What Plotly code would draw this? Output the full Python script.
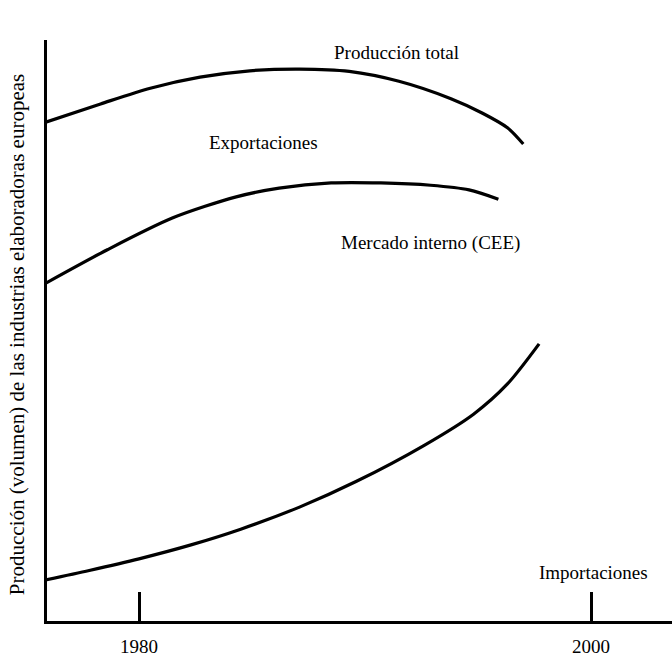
import plotly.graph_objects as go

# Data (years, relative volume units)
prod_years = [1975.9, 1978.3, 1980.5, 1982.7, 1984.9, 1987.1, 1989.3, 1991.5, 1993.8, 1995.2, 1996.3, 1997.0]
prod_vals = [85.9, 89.0, 91.7, 93.6, 94.7, 95.0, 94.6, 92.9, 89.9, 87.4, 84.9, 82.1]

merc_years = [1975.9, 1978.6, 1981.5, 1984.3, 1986.2, 1988.5, 1990.7, 1992.9, 1994.6, 1995.9]
merc_vals = [58.2, 63.9, 69.4, 73.0, 74.5, 75.4, 75.4, 75.0, 74.2, 72.6]

imp_years = [1975.9, 1977.8, 1980.0, 1982.3, 1984.5, 1987.1, 1989.6, 1992.6, 1994.8, 1996.3, 1997.7]
imp_vals = [7.1, 8.7, 10.7, 13.1, 15.8, 19.6, 24.0, 30.2, 35.6, 40.8, 47.7]

tick_years = [1980, 2000]
tick_labels = ["1980", "2000"]

labels = ["Producción total", "Exportaciones", "Mercado interno (CEE)", "Importaciones"]
label_years = [1991.4, 1985.5, 1992.9, 2000.1]
label_vals = [97.8, 82.4, 65.1, 8.3]

y_title = "Producción (volumen) de las industrias elaboradoras europeas"

FONT = "Liberation Serif"

fig = go.Figure()
for xs, ys in [(prod_years, prod_vals), (merc_years, merc_vals), (imp_years, imp_vals)]:
    fig.add_trace(go.Scatter(
        x=xs, y=ys, mode="lines",
        line=dict(color="black", width=3.2, shape="spline", smoothing=0.8),
        showlegend=False, hoverinfo="skip",
    ))

annotations = []
for t, xv, yv in zip(labels, label_years, label_vals):
    annotations.append(dict(
        x=xv, y=yv, xref="x", yref="y", text=t, showarrow=False,
        font=dict(family=FONT, size=19, color="black"),
        xanchor="center", yanchor="middle",
    ))
annotations.append(dict(
    x=-0.048, y=0.492, xref="paper", yref="paper", text=y_title,
    showarrow=False, textangle=-90,
    font=dict(family=FONT, size=21, color="black"),
    xanchor="center", yanchor="middle",
))

fig.update_layout(
    width=672, height=659,
    margin=dict(l=47, r=0, t=40, b=38),
    paper_bgcolor="white", plot_bgcolor="white",
    font=dict(family=FONT, size=19, color="black"),
    annotations=annotations,
    xaxis=dict(
        range=[1975.93, 2003.58],
        showgrid=False, zeroline=False,
        showline=True, linecolor="black", linewidth=3,
        ticks="inside", ticklen=29, tickwidth=3, tickcolor="black",
        tickvals=tick_years, ticktext=tick_labels,
        tickfont=dict(family=FONT, size=19, color="black"),
        ticklabelstandoff=6,
    ),
    yaxis=dict(
        range=[0, 100],
        showgrid=False, zeroline=False,
        showline=True, linecolor="black", linewidth=3,
        showticklabels=False, ticks="",
    ),
)

fig.write_html(
    "out.html",
    config={"displayModeBar": False},
    post_script="document.body.style.margin='0';document.body.style.overflow='hidden';",
)
